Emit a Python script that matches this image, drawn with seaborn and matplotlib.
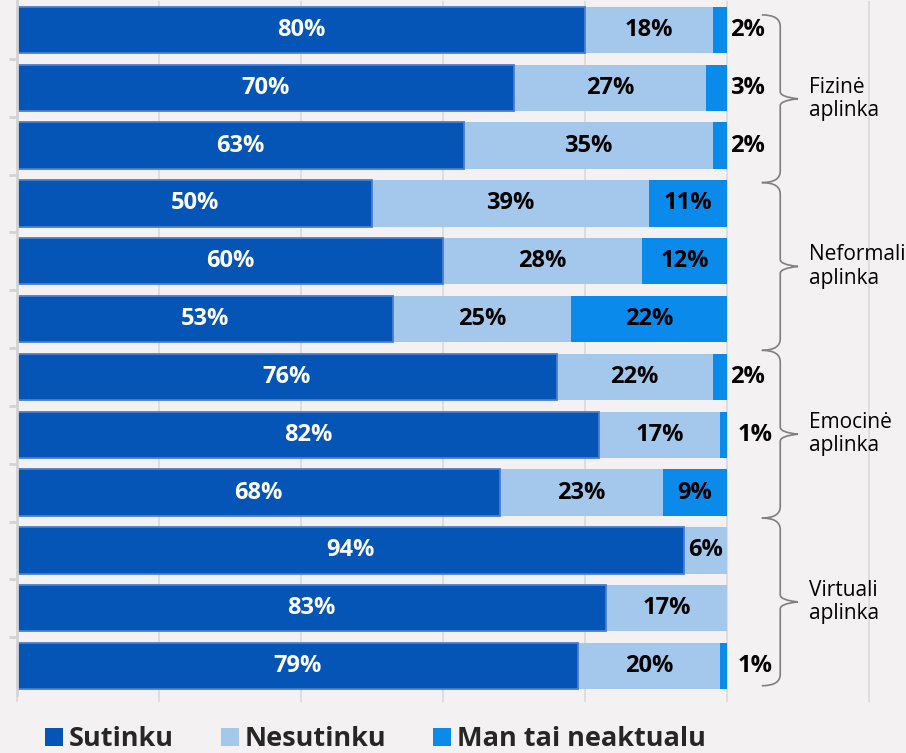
import matplotlib
matplotlib.use("Agg")
import matplotlib.pyplot as plt
from matplotlib.patches import Patch, PathPatch
from matplotlib.path import Path
from matplotlib.ticker import FixedLocator
import pandas as pd
import seaborn as sns

# ===== Data =====
rows = ["F1", "F2", "F3", "N1", "N2", "N3", "E1", "E2", "E3", "V1", "V2", "V3"]
sutinku = [80, 70, 63, 50, 60, 53, 76, 82, 68, 94, 83, 79]
nesutinku = [18, 27, 35, 39, 28, 25, 22, 17, 23, 6, 17, 20]
neaktualu = [2, 3, 2, 11, 12, 22, 2, 1, 9, 0, 0, 1]
groups = ["Fizinė\naplinka", "Neformali\naplinka", "Emocinė\naplinka", "Virtuali\naplinka"]
series_names = ["Sutinku", "Nesutinku", "Man tai neaktualu"]

# ===== Style =====
bg = "#F3F1F2"
c_dark = "#0455B6"
c_light = "#A3C8EC"
c_bright = "#0A8AEA"
grid_c = "#D9D9D9"

sns.set_style("white")
plt.rcParams["font.family"] = ["Open Sans", "DejaVu Sans"]

df = pd.DataFrame({"row": rows, "d": sutinku, "l": nesutinku, "b": neaktualu})
df["dl"] = df["d"] + df["l"]
df["dlb"] = df["dl"] + df["b"]

fig = plt.figure(figsize=(9.06, 7.53), dpi=100, facecolor=bg)
ax = fig.add_axes([17 / 906, 1 - 695 / 753, 889 / 906, 694 / 753])
ax.set_facecolor(bg)

# stacked bars drawn as cumulative layers
sns.barplot(data=df, x="dlb", y="row", orient="h", color=c_bright, width=0.8,
            saturation=1, linewidth=0, ax=ax, zorder=2)
sns.barplot(data=df, x="dl", y="row", orient="h", color=c_light, width=0.8,
            saturation=1, linewidth=0, ax=ax, zorder=3)
sns.barplot(data=df, x="d", y="row", orient="h", color=c_dark, width=0.8,
            saturation=1, edgecolor="#4A7ECF", linewidth=1.3, ax=ax, zorder=4)

ax.set_xlim(0, 889 / 7.1)
ax.set_ylim(11.5, -0.5)
ax.set_xlabel("")
ax.set_ylabel("")

# grid and axis decoration
ax.xaxis.set_major_locator(FixedLocator([0, 20, 40, 60, 80, 100, 120]))
ax.grid(axis="x", color=grid_c, linewidth=1.2, zorder=0)
ax.set_axisbelow(True)
ax.set_xticklabels([])
ax.tick_params(axis="x", bottom=True, length=5, width=1.2, color=grid_c, direction="out")
ax.set_yticks([])
ax.yaxis.set_minor_locator(FixedLocator([i + 0.5 for i in range(len(rows) - 1)]))
ax.tick_params(axis="y", which="minor", left=True, length=6, width=2, color="#D3D3D3")
for side in ["top", "right", "bottom"]:
    ax.spines[side].set_visible(False)
ax.spines["left"].set_color("#D3D3D3")
ax.spines["left"].set_linewidth(2)
ax.spines["left"].set_zorder(5)

# ===== Value labels =====
lab_font = dict(fontsize=17, fontweight="bold", va="center", zorder=6)
for i, r in df.iterrows():
    ax.text(r["d"] / 2, i, f"{r['d']}%", color="white", ha="center", **lab_font)
    if r["l"] > 0:
        ax.text(r["d"] + r["l"] / 2, i, f"{r['l']}%", color="black", ha="center", **lab_font)
    if r["b"] >= 5:
        ax.text(r["dl"] + r["b"] / 2, i, f"{r['b']}%", color="black", ha="center", **lab_font)
    elif r["b"] > 0:
        off = 1.5 if r["b"] == 1 else 0.4
        ax.text(r["dlb"] + off, i, f"{r['b']}%", color="black", ha="left",
                clip_on=False, **lab_font)

# ===== Group braces =====
x_hook, x_mid, x_tip = 104.9, 107.5, 110.0
for g, name in enumerate(groups):
    top = 3 * g - 0.26 - 0.1 * g
    bot = top + 2.9
    c = (top + bot) / 2
    verts = [(x_hook, top), (x_mid, top), (x_mid, top + 0.2),
             (x_mid, c - 0.12), (x_mid, c - 0.03), (x_tip, c),
             (x_mid, c + 0.03), (x_mid, c + 0.12),
             (x_mid, bot - 0.2), (x_mid, bot), (x_hook, bot)]
    codes = [Path.MOVETO, Path.CURVE3, Path.CURVE3,
             Path.LINETO, Path.CURVE3, Path.CURVE3,
             Path.CURVE3, Path.CURVE3,
             Path.LINETO, Path.CURVE3, Path.CURVE3]
    ax.add_patch(PathPatch(Path(verts, codes), facecolor="none", edgecolor="#7F7F7F",
                           linewidth=1.2, clip_on=False, zorder=6))
    ax.text(111.5, c, name, ha="left", va="center", fontsize=15, linespacing=1.15,
            color="black", zorder=6)

# ===== Legend =====
handles = [Patch(facecolor=col, edgecolor="none") for col in (c_dark, c_light, c_bright)]
fig.legend(handles, series_names, loc="center left", bbox_to_anchor=(0.05, 0.018),
           ncol=3, frameon=False, prop={"weight": "bold", "size": 19.5},
           handlelength=0.66, handleheight=0.66, handletextpad=0.2,
           columnspacing=1.75, borderpad=0, borderaxespad=0)

plt.savefig("out.png", dpi=100, facecolor=bg)
plt.close()
